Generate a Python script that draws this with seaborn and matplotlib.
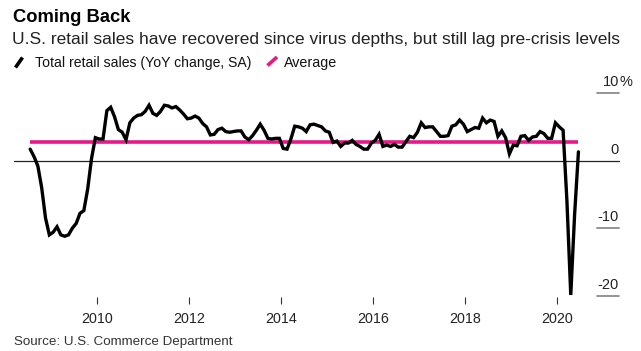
import numpy as np
import pandas as pd
import matplotlib
matplotlib.use("Agg")
import matplotlib.pyplot as plt
import matplotlib.transforms as mtransforms
from matplotlib.lines import Line2D
import seaborn as sns

# --- data: monthly YoY change in total retail sales, Jul 2008 .. Jun 2020 ---
start_year, start_month = 2008, 7
retail_yoy = [
    1.7, 0.6, -0.8, -4.0, -8.5, -11.0, -10.6, -9.8, -11.0, -11.2, -11.0, -10.0,
    -9.3, -7.8, -7.4, -4.2, 0.3, 3.4, 3.2, 3.2, 7.4, 7.9, 6.5, 4.6,
    4.2, 3.1, 5.6, 6.3, 6.7, 6.8, 7.3, 8.2, 7.0, 6.7, 7.3, 8.2,
    8.1, 7.8, 8.0, 7.5, 6.9, 6.2, 6.3, 6.6, 6.3, 5.5, 5.0, 3.8,
    3.9, 4.6, 4.8, 4.3, 4.2, 4.3, 4.4, 4.4, 3.5, 3.1, 3.7, 4.5,
    5.4, 4.5, 3.3, 3.2, 3.3, 3.3, 1.8, 1.7, 3.2, 5.1, 5.0, 4.8,
    4.3, 5.3, 5.4, 5.2, 5.0, 4.4, 4.2, 2.7, 2.9, 2.1, 2.6, 2.6,
    3.0, 2.4, 2.1, 1.7, 1.7, 2.6, 3.0, 3.9, 2.1, 2.3, 2.1, 2.4,
    2.0, 2.0, 2.8, 3.6, 3.4, 4.2, 5.6, 4.9, 5.0, 5.0, 4.3, 3.6,
    3.6, 3.7, 5.1, 5.3, 6.0, 5.4, 4.3, 4.6, 4.9, 4.8, 6.3, 5.6,
    6.0, 5.8, 3.6, 4.4, 3.4, 1.0, 2.3, 2.2, 3.6, 3.7, 3.0, 3.5,
    3.6, 4.3, 4.0, 3.3, 3.3, 5.6, 5.0, 4.5, -6.0, -19.9, -8.0, 1.3,
]
average_yoy = 2.75
year_ticks = [2010, 2012, 2014, 2016, 2018, 2020]
y_ticks = [10, 0, -10, -20]
y_tick_labels = ["10", "0", "-10", "-20"]

months = np.arange(len(retail_yoy))
df = pd.DataFrame({
    "t": start_year + (start_month - 1 + months + 0.5) / 12.0,
    "yoy": retail_yoy,
})

W, H = 641, 351
sns.set_theme(style="white")
plt.rcParams["font.family"] = ["Liberation Sans", "DejaVu Sans"]

fig = plt.figure(figsize=(W / 100, H / 100), dpi=100)
fx = lambda px: px / W
fy = lambda py: 1 - py / H

ax = fig.add_axes([fx(14), fy(297), fx(619) - fx(14), fy(85) - fy(297)])
ax.set_xlim(2008.19, 2021.34)
ax.set_ylim(-20.2, 11.2)

# short grey gridlines on the right, full zero line
for v in y_ticks:
    if v == 0:
        ax.axhline(0, color="#222222", lw=0.9, zorder=1)
    else:
        ax.axhline(v, xmin=0.963, xmax=1.0, color="#8c8c8c", lw=1.3, zorder=1, clip_on=False)

ax.hlines(average_yoy, df["t"].iloc[0], df["t"].iloc[-1], color="#e8178a", lw=2.6, zorder=2)
sns.lineplot(data=df, x="t", y="yoy", ax=ax, color="black", lw=2.4, zorder=3)
for l in ax.lines:
    l.set_clip_on(False)
    l.set_solid_joinstyle("miter")

trans = mtransforms.blended_transform_factory(ax.transAxes, ax.transData)
for v, lab in zip(y_ticks, y_tick_labels):
    ax.text(1.0, v + 1.0, lab, transform=trans, ha="right", va="baseline",
            fontsize=10.5, color="#222222")
ax.text(1.0, 10 + 1.0, "%", transform=trans, ha="left", va="baseline",
        fontsize=10.5, color="#222222")

ax.set_xticks(year_ticks)
ax.set_xticklabels([str(y) for y in year_ticks], fontsize=10.3, color="#222222")
ax.set_yticks([])
ax.tick_params(axis="x", direction="out", length=5, width=0.8, color="#333333", pad=6, bottom=True)
ax.set_xlabel("")
ax.set_ylabel("")
for s in ax.spines.values():
    s.set_visible(False)
ax.patch.set_alpha(0)

# header
fig.text(fx(13), fy(21.7), "Coming Back", fontsize=13.2, fontweight="bold",
         color="black", va="baseline", ha="left")
fig.text(fx(12), fy(44.3), "U.S. retail sales have recovered since virus depths, but still lag pre-crisis levels",
         fontsize=12.5, color="#222222", va="baseline", ha="left")

# legend with slanted swatches
fig.add_artist(Line2D([fx(15.5), fx(22.5)], [fy(67.5), fy(57.5)], color="black", lw=2.6,
                      transform=fig.transFigure, solid_capstyle="butt"))
fig.text(fx(35), fy(66.7), "Total retail sales (YoY change, SA)", fontsize=10.1,
         color="#111111", va="baseline", ha="left")
fig.add_artist(Line2D([fx(267.5), fx(277)], [fy(65.5), fy(57)], color="#e8178a", lw=2.6,
                      transform=fig.transFigure, solid_capstyle="butt"))
fig.text(fx(284), fy(66.7), "Average", fontsize=10.3, color="#111111", va="baseline", ha="left")

fig.text(fx(14), fy(345.5), "Source: U.S. Commerce Department", fontsize=9.6,
         color="#333333", va="baseline", ha="left")

fig.savefig("out.png", dpi=100)
